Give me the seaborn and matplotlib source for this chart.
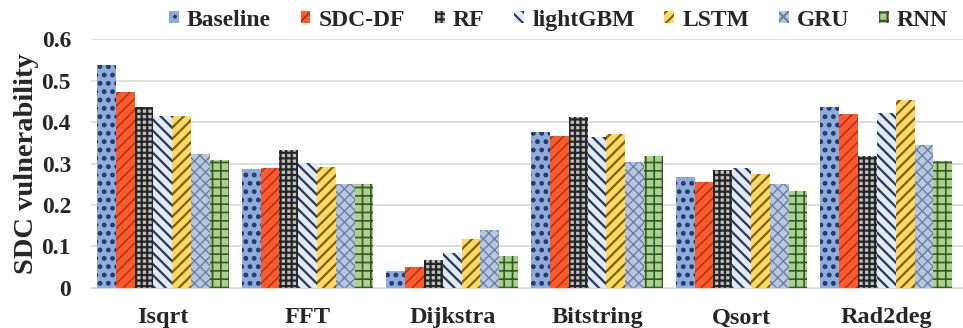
import numpy as np
import pandas as pd
import matplotlib
matplotlib.use('Agg')
import matplotlib.pyplot as plt
import matplotlib.patches as mpatches
import seaborn as sns

BENCHMARKS = ["Isqrt", "FFT", "Dijkstra", "Bitstring", "Qsort", "Rad2deg"]
MODELS = ["Baseline", "SDC-DF", "RF", "lightGBM", "LSTM", "GRU", "RNN"]

baseline = [0.537, 0.287, 0.041, 0.376, 0.267, 0.436]
sdc_df = [0.472, 0.289, 0.051, 0.366, 0.255, 0.419]
rf = [0.436, 0.333, 0.067, 0.412, 0.284, 0.319]
lightgbm = [0.414, 0.301, 0.084, 0.364, 0.289, 0.421]
lstm = [0.414, 0.291, 0.118, 0.371, 0.275, 0.453]
gru = [0.323, 0.250, 0.140, 0.304, 0.250, 0.344]
rnn = [0.308, 0.250, 0.077, 0.318, 0.234, 0.305]

series = [baseline, sdc_df, rf, lightgbm, lstm, gru, rnn]

# face colour, hatch colour, hatch pattern, hatch linewidth
STYLES = [
    ("#8FAADC", "#1F3864", "..", 2.2),
    ("#FF5A2E", "#A8381C", "///", 1.2),
    ("#BFBFBF", "#262626", "+++", 1.6),
    ("#E4EAF5", "#203864", "\\\\\\", 1.6),
    ("#FFD966", "#7F6000", "///", 1.6),
    ("#B4C7E7", "#6F7F96", "xxx", 1.0),
    ("#A9D18E", "#385723", "++", 1.2),
]

df = pd.DataFrame({
    "benchmark": BENCHMARKS * len(MODELS),
    "model": [m for m in MODELS for _ in BENCHMARKS],
    "value": [v for s in series for v in s],
})

sns.set_style("white")
plt.rcParams['font.family'] = ['Liberation Serif', 'DejaVu Serif']
plt.rcParams['font.weight'] = 'bold'
plt.rcParams['hatch.linewidth'] = 1.5


def style_patch(p, fc, hc, hatch, hlw):
    p.set_facecolor(fc)
    p.set_edgecolor(hc)
    p.set_hatch(hatch)
    p.set_linewidth(0)
    if hasattr(p, "set_hatch_linewidth"):
        p.set_hatch_linewidth(hlw)
    else:
        p._hatch_linewidth = hlw


fig = plt.figure(figsize=(9.63, 3.28), dpi=100)
ax = fig.add_axes([0.094, 0.122, 0.906, 0.759])

sns.barplot(data=df, x="benchmark", y="value", hue="model",
            order=BENCHMARKS, hue_order=MODELS, width=0.91,
            gap=0, legend=False, ax=ax, errorbar=None)

for cont, st in zip(ax.containers, STYLES):
    for bar in cont:
        style_patch(bar, *st)

ax.set_ylim(0, 0.6)
ax.set_xlim(-0.5, 5.53)
ax.set_yticks(np.arange(0, 0.61, 0.1))
ax.set_yticklabels(["0", "0.1", "0.2", "0.3", "0.4", "0.5", "0.6"])
ax.yaxis.grid(True, color="#D9D9D9", linewidth=1.2)
ax.set_axisbelow(True)
for s in ["top", "right", "left"]:
    ax.spines[s].set_visible(False)
ax.spines["bottom"].set_color("#D9D9D9")
ax.tick_params(axis="y", length=0, pad=14, labelsize=17)
ax.tick_params(axis="x", length=0, pad=14, labelsize=17.5)
for lab in ax.get_xticklabels() + ax.get_yticklabels():
    lab.set_fontweight('bold')
ax.set_xlabel("")
ax.set_ylabel("SDC vulnerability", fontsize=20.5, fontweight='bold', labelpad=2)

handles = []
for m, st in zip(MODELS, STYLES):
    h = mpatches.Patch(label=m)
    style_patch(h, *st)
    handles.append(h)
fig.legend(handles=handles, loc="upper center", bbox_to_anchor=(0.58, 1.035),
           ncol=7, frameon=False, handlelength=0.42, handleheight=0.42,
           handletextpad=0.35, columnspacing=1.25, prop={'weight': 'bold', 'size': 17})

fig.savefig("out.png", dpi=100)
